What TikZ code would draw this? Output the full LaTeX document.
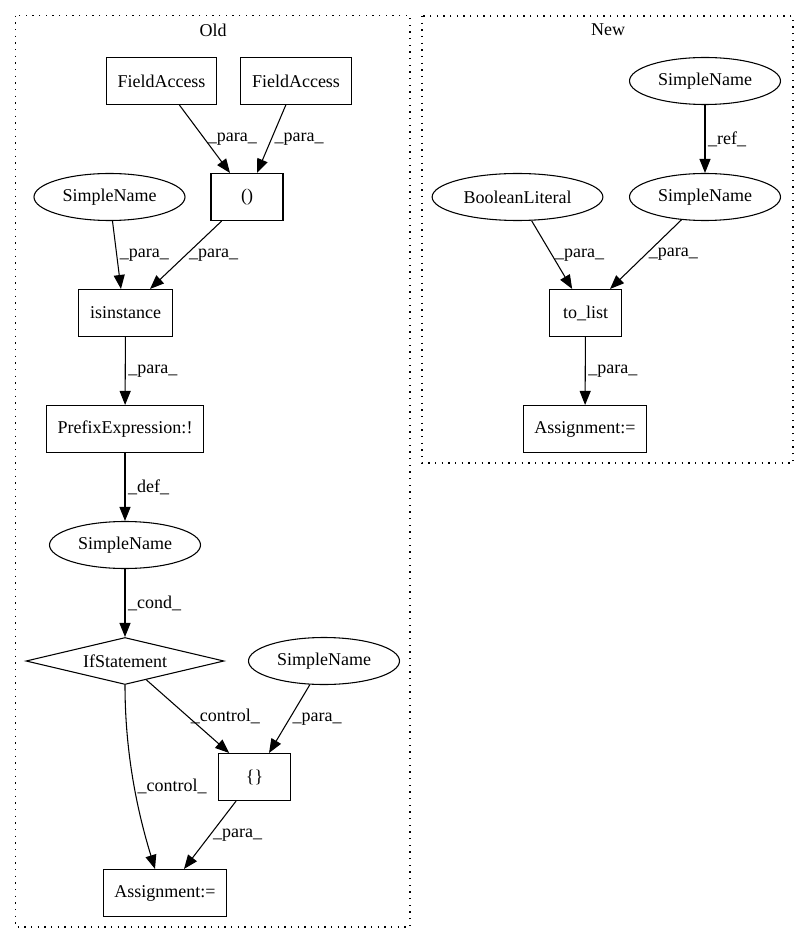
\documentclass[tikz,border=0pt]{standalone}
\usepackage{fontspec}
\setmainfont{Liberation Serif}
\usetikzlibrary{arrows.meta,shapes.geometric}

\begin{document}
\begin{tikzpicture}[x=0.75pt,y=-0.75pt,line width=0.8pt,font=\fontsize{13.5}{16}\selectfont,
	box/.style={draw,rectangle,minimum width=54pt,minimum height=35.25pt,inner xsep=8.5pt},
	oval/.style={draw,ellipse,minimum height=35.25pt,inner xsep=4.8pt,inner ysep=2pt},
	cond/.style={draw,diamond,aspect=4.2,inner sep=0pt,minimum width=148.5pt,minimum height=35.25pt},
	link/.style={-{Triangle[length=10.5pt,width=8.25pt]}},
	lbl/.style={right,inner sep=2pt},
	cluster/.style={dash pattern=on 1pt off 4pt}]
		\useasboundingbox (0,0) rectangle (809,944);
		\draw[cluster] (15.7,15.7) rectangle (410,927);
		\draw[cluster] (422,16) rectangle (793,463);
		\node (oldTitle) at (213,30) {Old};
		\node (newTitle) at (608,30) {New};
		\node[box] (fieldA) at (161.5,81) {FieldAccess};
		\node[box] (fieldB) at (296,81) {FieldAccess};
		\node[box] (paren) at (247,197) {()};
		\node[oval] (simpleA) at (109.5,197) {SimpleName};
		\node[box] (isinst) at (125.5,313) {isinstance};
		\node[box] (prefix) at (125,429) {PrefixExpression:!};
		\node[oval] (simpleB) at (125,545) {SimpleName};
		\node[cond] (ifstmt) at (125,661) {IfStatement};
		\node[oval] (simpleC) at (324,661) {SimpleName};
		\node[box] (block) at (254.5,777) {\{\}};
		\node[box] (assignOld) at (165,893) {Assignment:=};
		\node[oval] (newSimpleA) at (705,81) {SimpleName};
		\node[oval] (boolLit) at (517.5,197) {BooleanLiteral};
		\node[oval] (newSimpleB) at (705,197) {SimpleName};
		\node[box] (toList) at (585.5,313) {to\_list};
		\node[box] (assignNew) at (585,429) {Assignment:=};
		\draw[link] (fieldA) -- node[lbl] {\_para\_} ([xshift=-12.75pt]paren.north);
		\draw[link] (fieldB) -- node[lbl] {\_para\_} ([xshift=7.5pt]paren.north);
		\draw[link] (simpleA) -- node[lbl] {\_para\_} ([xshift=-3.4pt]isinst.north);
		\draw[link] (paren) -- node[lbl] {\_para\_} ([xshift=18.4pt]isinst.north);
		\draw[link] (isinst) -- node[lbl] {\_para\_} (prefix);
		\draw[link] (prefix) -- node[lbl] {\_def\_} (simpleB);
		\draw[link] (simpleB) -- node[lbl] {\_cond\_} (ifstmt);
		\draw[link] (ifstmt) -- node[lbl] {\_control\_} ([xshift=-19pt]block.north);
		\draw[link] (simpleC) -- node[lbl] {\_para\_} ([xshift=10.9pt]block.north);
		\draw[link] (ifstmt.south) .. controls (125,760) and (140,820) .. ([xshift=-7.5pt]assignOld.north) node[lbl,pos=0.5] {\_control\_};
		\draw[link] (block) -- node[lbl] {\_para\_} ([xshift=14.25pt]assignOld.north);
		\draw[link] (newSimpleA) -- node[lbl] {\_ref\_} (newSimpleB);
		\draw[link] (boolLit) -- node[lbl] {\_para\_} ([xshift=-10pt]toList.north);
		\draw[link] (newSimpleB) -- node[lbl] {\_para\_} ([xshift=18.4pt]toList.north);
		\draw[link] (toList) -- node[lbl] {\_para\_} (assignNew);
\end{tikzpicture}
\end{document}
